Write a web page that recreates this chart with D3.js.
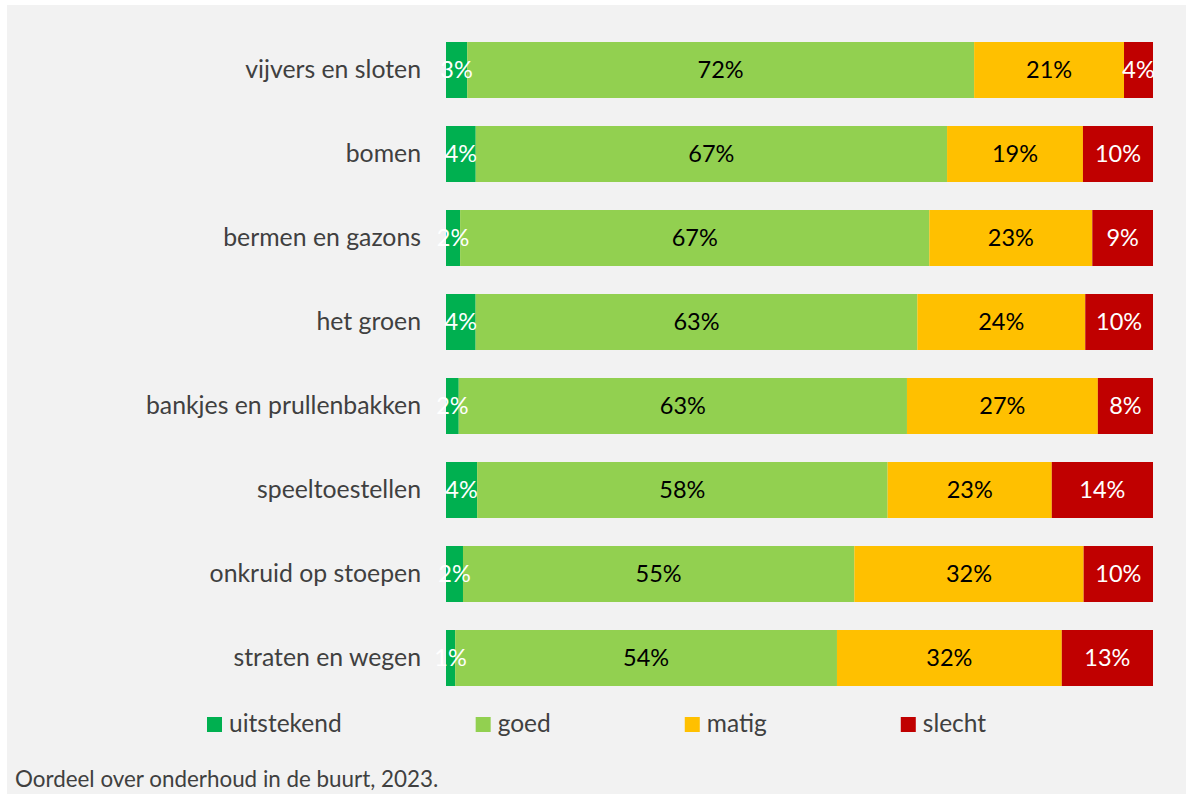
<!DOCTYPE html>
<html>
<head>
<meta charset="utf-8">
<script src="https://cdn.jsdelivr.net/npm/d3@7"></script>
<style>
  html, body { margin: 0; padding: 0; background: #ffffff; }
  svg { display: block; font-family: Lato, "Open Sans", sans-serif; }
</style>
</head>
<body>
<div class="chart"></div>
<script>
// categories, top to bottom
var categories = ["vijvers en sloten", "bomen", "bermen en gazons", "het groen",
  "bankjes en prullenbakken", "speeltoestellen", "onkruid op stoepen", "straten en wegen"];

// series (percent)
var uitstekend = [3.0, 4.2, 2.0, 4.2, 1.8, 4.4, 2.4, 1.3];
var goed       = [71.7, 66.6, 66.5, 62.6, 63.4, 58.0, 55.3, 54.0];
var matig      = [21.2, 19.2, 23.1, 23.8, 27.0, 23.2, 32.4, 31.8];
var slecht     = [4.1, 9.9, 8.6, 9.6, 7.8, 14.3, 9.8, 12.9];

var seriesNames = ["uitstekend", "goed", "matig", "slecht"];
var seriesColors = ["#00b050", "#92d050", "#ffc000", "#c00000"];
var labelColors = ["#ffffff", "#000000", "#000000", "#ffffff"];
var caption = "Oordeel over onderhoud in de buurt, 2023.";

var svgWidth = 1186;
var svgHeight = 794;

var svg = d3.select(".chart")
  .append("svg")
  .attr("width", svgWidth)
  .attr("height", svgHeight);

// grey chart area
svg.append("rect")
  .attr("x", 7).attr("y", 5)
  .attr("width", svgWidth - 7).attr("height", svgHeight - 5)
  .attr("fill", "#f2f2f2");

// build rows for the stack
var rows = categories.map(function(c, i) {
  return { cat: c, uitstekend: uitstekend[i], goed: goed[i], matig: matig[i], slecht: slecht[i] };
});

var stack = d3.stack().keys(seriesNames).offset(d3.stackOffsetExpand);
var stacked = stack(rows);

var x = d3.scaleLinear().domain([0, 1]).range([446, 1153]);
var y = d3.scaleBand().domain(categories).range([28, 700])
  .paddingInner(1 / 3).paddingOuter(1 / 6);

// category labels
svg.append("g")
  .selectAll("text")
  .data(categories)
  .enter().append("text")
  .attr("x", 421)
  .attr("y", function(d) { return y(d) + y.bandwidth() / 2 + 8; })
  .attr("text-anchor", "end")
  .attr("fill", "#404040")
  .style("font-size", "24.8px")
  .text(function(d) { return d; });

// bars
var layers = svg.append("g")
  .selectAll("g")
  .data(stacked)
  .enter().append("g")
  .attr("fill", function(d, i) { return seriesColors[i]; });

layers.selectAll("rect")
  .data(function(d) { return d; })
  .enter().append("rect")
  .attr("x", function(d) { return x(d[0]); })
  .attr("y", function(d) { return y(d.data.cat); })
  .attr("width", function(d) { return x(d[1]) - x(d[0]); })
  .attr("height", y.bandwidth());

// value labels
stacked.forEach(function(layer, si) {
  svg.append("g")
    .selectAll("text")
    .data(layer)
    .enter().append("text")
    .attr("x", function(d) { return (x(d[0]) + x(d[1])) / 2; })
    .attr("y", function(d) { return y(d.data.cat) + y.bandwidth() / 2 + 8; })
    .attr("text-anchor", "middle")
    .attr("fill", labelColors[si])
    .style("font-size", "23.5px")
    .text(function(d) { return Math.round(d.data[layer.key]) + "%"; });
});

// legend
var legend = svg.append("g");
var lx = 207;
seriesNames.forEach(function(name, i) {
  legend.append("rect")
    .attr("x", lx).attr("y", 717)
    .attr("width", 15).attr("height", 15)
    .attr("fill", seriesColors[i]);
  var t = legend.append("text")
    .attr("x", lx + 22).attr("y", 732)
    .attr("fill", "#404040")
    .style("font-size", "24.5px")
    .text(name);
  lx += 22 + t.node().getComputedTextLength() + 134;
});

// caption
svg.append("text")
  .attr("x", 15).attr("y", 787)
  .attr("fill", "#404040")
  .style("font-size", "22.4px")
  .text(caption);
</script>
</body>
</html>
